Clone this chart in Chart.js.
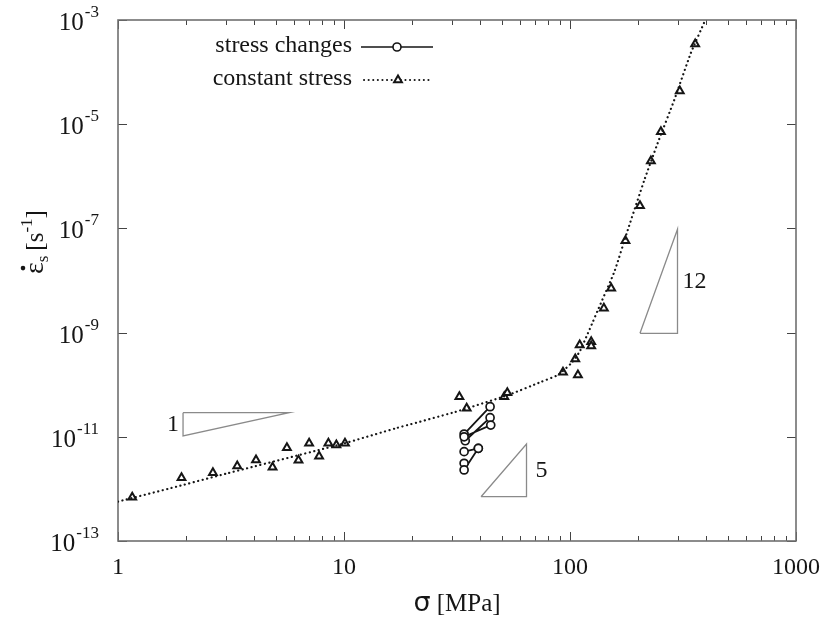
<!DOCTYPE html>
<html>
<head>
<meta charset="utf-8">
<script src="https://cdn.jsdelivr.net/npm/chart.js@4.4.1/dist/chart.umd.min.js"></script>
<style>
  body { margin: 0; background: #fff; }
  canvas { display: block; }
</style>
</head>
<body>
<canvas id="chart" width="832" height="619"></canvas>
<script>
// constant stress tests (triangles)
const constSigma = [1.156, 1.91, 2.63, 3.37, 4.08, 4.83, 5.59, 6.29, 7.01, 7.76, 8.53, 9.25, 10.1,
  32.4, 34.9, 51.2, 52.8, 93.1, 105.5, 108.4, 110.4, 124.1, 124.1, 141.2, 152.1, 175.9, 204, 228, 252.5, 306, 358];
const constRate = [6.9e-13, 1.64e-12, 2.05e-12, 2.75e-12, 3.59e-12, 2.6e-12, 6.18e-12, 3.54e-12, 7.5e-12, 4.23e-12, 7.5e-12, 6.97e-12, 7.5e-12,
  5.89e-11, 3.52e-11, 5.9e-11, 7.03e-11, 1.73e-10, 3.11e-10, 1.54e-10, 5.78e-10, 6.68e-10, 5.53e-10, 2.92e-9, 7.08e-9, 5.8e-8, 2.73e-7, 1.97e-6, 7.18e-6, 4.34e-5, 3.46e-4];

// fitted curve for constant stress (dotted)
const fitSigma = [1, 1.81, 3.06, 9.83, 16.9, 31.1, 53.3, 74.8, 88.5, 101.3, 110.3, 120, 126.3, 132.9, 157.4, 180.1, 213.3, 244.2, 289.2, 342.2, 397];
const fitRate = [5.7e-13, 1.1e-12, 2.0e-12, 7.3e-12, 1.45e-11, 3.0e-11, 6.34e-11, 1.14e-10, 1.54e-10, 2.58e-10, 4.3e-10, 9.7e-10, 1.62e-9, 2.72e-9, 1.5e-8, 9.3e-8, 8.5e-7, 4.3e-6, 2.91e-5, 2.3e-4, 1e-3];

// stress change tests, pairs split by null
const changeSigma = [34.0, 44.3, null, 34.4, 44.3, null, 34.0, 44.6, null, 34.0, 39.3, null, 34.0, 34.0, 39.3];
const changeRate = [1.13e-11, 3.78e-11, null, 8.4e-12, 2.33e-11, null, 1.0e-11, 1.68e-11, null, 5.18e-12, 6.0e-12, null, 3.1e-12, 2.31e-12, 6.0e-12];

// slope triangles
const slope1Sigma = [1.94, 5.72, 1.94, 1.94];
const slope1Rate = [2.9e-11, 2.9e-11, 1.04e-11, 2.9e-11];
const slope5Sigma = [40.4, 64.2, 64.2, 40.4];
const slope5Rate = [7.08e-13, 7.08e-13, 7.28e-12, 7.08e-13];
const slope12Sigma = [204, 299, 299, 204];
const slope12Rate = [9.7e-10, 9.7e-10, 9.6e-8, 9.7e-10];

// axis ticks
const xMajor = [1, 10, 100, 1000];
const xLabels = ['1', '10', '100', '1000'];
const yMajor = [1e-13, 1e-11, 1e-9, 1e-7, 1e-5, 1e-3];
const yExp = ['-13', '-11', '-9', '-7', '-5', '-3'];

const serif = '"Liberation Serif", "Times New Roman", serif';
const ink = '#151515';

function pts(xs, ys) {
  return xs.map((v, i) => ({ x: v, y: ys[i] }));
}

function slopeSet(xs, ys) {
  return {
    type: 'line', data: pts(xs, ys), borderColor: '#8a8a8a', borderWidth: 1.3,
    pointRadius: 0, fill: false, tension: 0
  };
}

const decor = {
  id: 'decor',
  beforeDatasetsDraw(chart) {
    const { ctx, chartArea: a, scales: { x, y } } = chart;
    ctx.save();
    ctx.strokeStyle = '#444';
    ctx.lineWidth = 1;
    // x ticks, bottom and top, pointing inward
    for (let d = 1; d < 1000; d *= 10) {
      for (let m = 1; m <= 10; m++) {
        const v = d * m;
        if (v > 1000) break;
        const px = Math.round(x.getPixelForValue(v)) + 0.5;
        const len = (m === 1 || m === 10) ? 9 : 5;
        ctx.beginPath();
        ctx.moveTo(px, a.bottom); ctx.lineTo(px, a.bottom - len);
        ctx.moveTo(px, a.top); ctx.lineTo(px, a.top + len);
        ctx.stroke();
      }
    }
    yMajor.forEach(v => {
      const py = Math.round(y.getPixelForValue(v)) + 0.5;
      ctx.beginPath();
      ctx.moveTo(a.left, py); ctx.lineTo(a.left + 9, py);
      ctx.moveTo(a.right, py); ctx.lineTo(a.right - 9, py);
      ctx.stroke();
    });
    // frame
    ctx.strokeStyle = '#707070';
    ctx.lineWidth = 1.6;
    ctx.strokeRect(a.left, a.top, a.right - a.left, a.bottom - a.top);
    ctx.restore();
  },
  afterDraw(chart) {
    const { ctx, chartArea: a, scales: { x, y } } = chart;
    ctx.save();
    ctx.fillStyle = ink;

    // y tick labels with exponents
    yMajor.forEach((v, i) => {
      const py = y.getPixelForValue(v);
      ctx.textAlign = 'right';
      ctx.textBaseline = 'alphabetic';
      ctx.font = '17px ' + serif;
      const ew = ctx.measureText(yExp[i]).width;
      ctx.fillText(yExp[i], 99, py - 3);
      ctx.font = '25px ' + serif;
      ctx.fillText('10', 99 - ew - 1, py + 10);
    });

    // y title
    ctx.save();
    ctx.translate(43, 274);
    ctx.rotate(-Math.PI / 2);
    ctx.textAlign = 'left';
    ctx.textBaseline = 'alphabetic';
    let cx = 0;
    ctx.font = '28px ' + serif;
    ctx.fillText('\u03b5', cx, 0);
    const epsW = ctx.measureText('\u03b5').width;
    ctx.beginPath();
    ctx.arc(cx + epsW / 2, -20, 2.3, 0, Math.PI * 2);
    ctx.fill();
    cx += epsW;
    ctx.font = '17px ' + serif;
    ctx.fillText('s', cx, 5);
    cx += ctx.measureText('s').width + 5;
    ctx.font = '25px ' + serif;
    ctx.fillText('[s', cx, 0);
    cx += ctx.measureText('[s').width;
    ctx.font = '17px ' + serif;
    ctx.fillText('-1', cx, -11);
    cx += ctx.measureText('-1').width;
    ctx.font = '25px ' + serif;
    ctx.fillText(']', cx, 0);
    ctx.restore();

    // x title
    ctx.textBaseline = 'alphabetic';
    ctx.font = '27px "DejaVu Sans", sans-serif';
    const sw = ctx.measureText('\u03c3').width;
    ctx.font = '25px ' + serif;
    const mw = ctx.measureText(' [MPa]').width;
    const x0 = (a.left + a.right) / 2 - (sw + mw) / 2;
    ctx.textAlign = 'left';
    ctx.font = '27px "DejaVu Sans", sans-serif';
    ctx.fillText('\u03c3', x0, 611);
    ctx.font = '25px ' + serif;
    ctx.fillText(' [MPa]', x0 + sw, 611);

    // slope labels
    ctx.font = '24px ' + serif;
    ctx.textBaseline = 'middle';
    ctx.textAlign = 'right';
    ctx.fillText('1', x.getPixelForValue(slope1Sigma[0]) - 4,
      (y.getPixelForValue(slope1Rate[0]) + y.getPixelForValue(slope1Rate[2])) / 2);
    ctx.textAlign = 'left';
    ctx.fillText('5', x.getPixelForValue(slope5Sigma[1]) + 9,
      (y.getPixelForValue(slope5Rate[1]) + y.getPixelForValue(slope5Rate[2])) / 2);
    ctx.fillText('12', x.getPixelForValue(slope12Sigma[1]) + 5,
      (y.getPixelForValue(slope12Rate[1]) + y.getPixelForValue(slope12Rate[2])) / 2);

    // legend
    ctx.font = '24px ' + serif;
    ctx.textAlign = 'right';
    ctx.textBaseline = 'middle';
    ctx.fillText('stress changes', 352, 46);
    ctx.fillText('constant stress', 352, 79);
    ctx.strokeStyle = ink;
    ctx.lineWidth = 1.6;
    ctx.beginPath();
    ctx.moveTo(361, 47); ctx.lineTo(433, 47);
    ctx.stroke();
    ctx.fillStyle = '#fff';
    ctx.beginPath(); ctx.arc(397, 47, 4, 0, Math.PI * 2); ctx.fill(); ctx.stroke();
    ctx.lineWidth = 2;
    ctx.lineCap = 'round';
    ctx.setLineDash([0.1, 4.5]);
    ctx.beginPath();
    ctx.moveTo(364, 80); ctx.lineTo(431, 80);
    ctx.stroke();
    ctx.setLineDash([]);
    ctx.lineCap = 'butt';
    ctx.lineWidth = 2;
    ctx.fillStyle = '#fff';
    Chart.helpers.drawPoint(ctx, { pointStyle: 'triangle', radius: 4.5, borderWidth: 2 }, 398, 80);
    ctx.restore();
  }
};

new Chart(document.getElementById('chart'), {
  type: 'scatter',
  data: {
    datasets: [
      slopeSet(slope1Sigma, slope1Rate),
      slopeSet(slope5Sigma, slope5Rate),
      slopeSet(slope12Sigma, slope12Rate),
      {
        label: 'constant stress fit', type: 'line', data: pts(fitSigma, fitRate),
        borderColor: ink, borderWidth: 2.2, borderDash: [0.1, 4.5], borderCapStyle: 'round',
        pointRadius: 0, fill: false, tension: 0.15
      },
      {
        label: 'constant stress', data: pts(constSigma, constRate),
        pointStyle: 'triangle', pointRadius: 4.5, borderWidth: 2,
        borderColor: ink, backgroundColor: '#fff'
      },
      {
        label: 'stress changes', type: 'line', data: pts(changeSigma, changeRate),
        borderColor: ink, borderWidth: 1.8, spanGaps: false, tension: 0,
        pointStyle: 'circle', pointRadius: 4, pointBorderWidth: 1.7,
        pointBackgroundColor: '#fff', pointBorderColor: ink, fill: false
      }
    ]
  },
  options: {
    responsive: false,
    animation: false,
    layout: { padding: { top: 20, right: 33, left: 0, bottom: 0 } },
    plugins: { legend: { display: false }, tooltip: { enabled: false } },
    scales: {
      x: {
        type: 'logarithmic', min: 1, max: 1000,
        grid: { display: false, drawTicks: false },
        border: { display: false },
        afterBuildTicks: s => { s.ticks = xMajor.map(v => ({ value: v })); },
        afterFit: s => { s.height = 78; },
        ticks: {
          autoSkip: false, maxRotation: 0, padding: 12, color: ink,
          font: { family: serif, size: 24 },
          callback: (v, i) => xLabels[i]
        }
      },
      y: {
        type: 'logarithmic', min: 1e-13, max: 1e-3,
        grid: { display: false, drawTicks: false },
        border: { display: false },
        afterBuildTicks: s => { s.ticks = yMajor.map(v => ({ value: v })); },
        afterFit: s => { s.width = 118; },
        ticks: { display: false }
      }
    }
  },
  plugins: [decor]
});
</script>
</body>
</html>
